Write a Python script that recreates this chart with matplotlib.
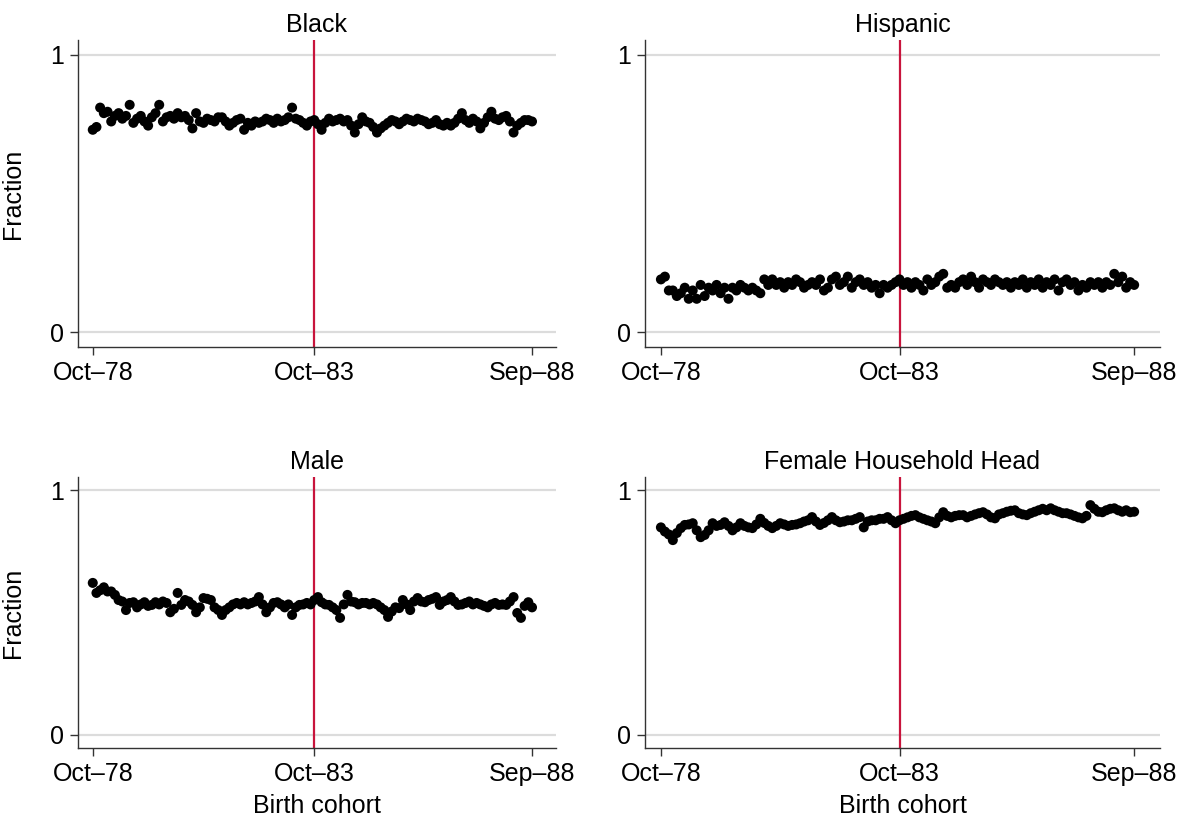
import numpy as np
import matplotlib
matplotlib.use("Agg")
import matplotlib.pyplot as plt

plt.rcParams['font.family'] = ['Liberation Sans', 'DejaVu Sans']

# birth cohort months, Oct-78 (0) .. Sep-88 (119)
months = np.arange(120)
tick_pos = [0, 60, 119]
tick_lab = ['Oct\u201378', 'Oct\u201383', 'Sep\u201388']
cutoff = 60

black = [0.73, 0.74, 0.81, 0.79, 0.795, 0.76, 0.78, 0.79, 0.77, 0.78,
         0.82, 0.755, 0.77, 0.78, 0.76, 0.745, 0.775, 0.79, 0.82, 0.76,
         0.775, 0.78, 0.77, 0.79, 0.775, 0.78, 0.765, 0.735, 0.79, 0.76,
         0.755, 0.77, 0.765, 0.76, 0.775, 0.775, 0.76, 0.745, 0.755, 0.765,
         0.77, 0.73, 0.755, 0.745, 0.76, 0.755, 0.76, 0.77, 0.765, 0.755,
         0.77, 0.76, 0.765, 0.775, 0.81, 0.77, 0.765, 0.755, 0.745, 0.76,
         0.765, 0.75, 0.73, 0.755, 0.77, 0.76, 0.765, 0.77, 0.76, 0.765,
         0.745, 0.72, 0.75, 0.775, 0.76, 0.755, 0.74, 0.72, 0.735, 0.745,
         0.755, 0.765, 0.76, 0.75, 0.76, 0.77, 0.765, 0.76, 0.77, 0.765,
         0.76, 0.75, 0.755, 0.765, 0.75, 0.745, 0.755, 0.745, 0.755, 0.77,
         0.79, 0.765, 0.755, 0.77, 0.76, 0.735, 0.755, 0.775, 0.795, 0.77,
         0.765, 0.775, 0.78, 0.76, 0.72, 0.745, 0.755, 0.765, 0.765, 0.76]

hispanic = [0.19, 0.20, 0.15, 0.15, 0.13, 0.14, 0.16, 0.12, 0.15, 0.12,
            0.17, 0.13, 0.16, 0.15, 0.17, 0.14, 0.16, 0.12, 0.16, 0.15,
            0.17, 0.16, 0.15, 0.16, 0.15, 0.14, 0.19, 0.17, 0.19, 0.17,
            0.18, 0.16, 0.18, 0.17, 0.19, 0.18, 0.16, 0.17, 0.18, 0.17,
            0.19, 0.15, 0.16, 0.19, 0.20, 0.17, 0.18, 0.20, 0.16, 0.18,
            0.19, 0.17, 0.18, 0.16, 0.17, 0.14, 0.17, 0.16, 0.17, 0.18,
            0.19, 0.17, 0.18, 0.16, 0.18, 0.17, 0.15, 0.19, 0.17, 0.18,
            0.20, 0.21, 0.16, 0.17, 0.16, 0.18, 0.19, 0.17, 0.20, 0.18,
            0.16, 0.19, 0.18, 0.17, 0.19, 0.18, 0.17, 0.18, 0.16, 0.18,
            0.17, 0.19, 0.16, 0.18, 0.17, 0.19, 0.16, 0.18, 0.17, 0.19,
            0.15, 0.18, 0.19, 0.17, 0.18, 0.15, 0.17, 0.16, 0.18, 0.17,
            0.18, 0.16, 0.18, 0.17, 0.21, 0.18, 0.20, 0.16, 0.18, 0.17]

male = [0.621, 0.580, 0.591, 0.603, 0.586, 0.586, 0.572, 0.551, 0.545, 0.510,
        0.539, 0.542, 0.521, 0.533, 0.542, 0.527, 0.531, 0.542, 0.533, 0.545,
        0.539, 0.501, 0.515, 0.580, 0.531, 0.551, 0.545, 0.531, 0.501, 0.521,
        0.559, 0.556, 0.551, 0.521, 0.510, 0.490, 0.510, 0.521, 0.533, 0.539,
        0.533, 0.542, 0.533, 0.539, 0.545, 0.563, 0.533, 0.501, 0.521, 0.539,
        0.542, 0.533, 0.521, 0.533, 0.490, 0.521, 0.531, 0.533, 0.539, 0.533,
        0.551, 0.563, 0.542, 0.533, 0.531, 0.521, 0.510, 0.478, 0.533, 0.572,
        0.545, 0.542, 0.533, 0.539, 0.539, 0.533, 0.539, 0.533, 0.521, 0.510,
        0.482, 0.504, 0.521, 0.518, 0.551, 0.533, 0.510, 0.545, 0.559, 0.545,
        0.542, 0.551, 0.556, 0.563, 0.531, 0.545, 0.551, 0.563, 0.545, 0.531,
        0.533, 0.539, 0.545, 0.533, 0.539, 0.533, 0.527, 0.521, 0.533, 0.539,
        0.531, 0.533, 0.531, 0.545, 0.563, 0.498, 0.478, 0.527, 0.542, 0.521]

female_head = [0.848, 0.831, 0.819, 0.796, 0.825, 0.845, 0.858, 0.860, 0.865, 0.836,
               0.808, 0.817, 0.836, 0.865, 0.854, 0.858, 0.869, 0.854, 0.836, 0.848,
               0.865, 0.854, 0.848, 0.845, 0.860, 0.883, 0.866, 0.854, 0.845, 0.854,
               0.865, 0.860, 0.854, 0.858, 0.860, 0.865, 0.872, 0.877, 0.890, 0.872,
               0.858, 0.866, 0.877, 0.890, 0.877, 0.869, 0.872, 0.877, 0.877, 0.883,
               0.890, 0.848, 0.872, 0.877, 0.877, 0.883, 0.883, 0.890, 0.877, 0.865,
               0.877, 0.883, 0.889, 0.895, 0.898, 0.889, 0.883, 0.877, 0.872, 0.865,
               0.889, 0.910, 0.895, 0.889, 0.895, 0.898, 0.898, 0.889, 0.895, 0.901,
               0.906, 0.910, 0.901, 0.889, 0.885, 0.901, 0.906, 0.912, 0.916, 0.918,
               0.906, 0.901, 0.898, 0.906, 0.912, 0.918, 0.924, 0.918, 0.926, 0.918,
               0.912, 0.906, 0.906, 0.901, 0.895, 0.889, 0.885, 0.895, 0.939, 0.924,
               0.912, 0.910, 0.918, 0.924, 0.926, 0.918, 0.912, 0.918, 0.910, 0.912]

panels = [('Black', black), ('Hispanic', hispanic),
          ('Male', male), ('Female Household Head', female_head)]

W, H = 1185, 817
fig = plt.figure(figsize=(W / 100, H / 100), dpi=100)

# axes boxes in pixels: left, top, right, bottom
boxes = [(78, 40, 556, 347), (645, 40, 1160, 347),
         (78, 477, 556, 748), (645, 477, 1160, 748)]

fs = 18
red = '#c8143c'
for i, ((title, vals), (l, t, r, b)) in enumerate(zip(panels, boxes)):
    ax = fig.add_axes([l / W, 1 - b / H, (r - l) / W, (b - t) / H])
    ax.axhline(0, color='#dcdcdc', lw=1.6, zorder=0)
    ax.axhline(1, color='#dcdcdc', lw=1.6, zorder=0)
    ax.axvline(cutoff, color=red, lw=1.6, zorder=1)
    ax.scatter(months, vals, s=52, color='black', edgecolors='none', zorder=3)
    ax.set_xlim(-4, 125.5)
    ax.set_ylim(-0.054, 1.054)
    ax.set_xticks(tick_pos)
    ax.set_xticklabels(tick_lab)
    ax.set_yticks([0, 1])
    ax.set_yticklabels(['0', '1'])
    ax.tick_params(labelsize=fs, length=6, width=1, color='#333333', pad=4)
    for s in ['top', 'right']:
        ax.spines[s].set_visible(False)
    for s in ['left', 'bottom']:
        ax.spines[s].set_color('#333333')
        ax.spines[s].set_linewidth(1)
    ax.set_title(title, fontsize=fs, pad=6)
    if i % 2 == 0:
        ax.set_ylabel('Fraction', fontsize=fs, labelpad=18)
    if i >= 2:
        ax.set_xlabel('Birth cohort', fontsize=fs, labelpad=6)

fig.savefig('out.png', dpi=100)
